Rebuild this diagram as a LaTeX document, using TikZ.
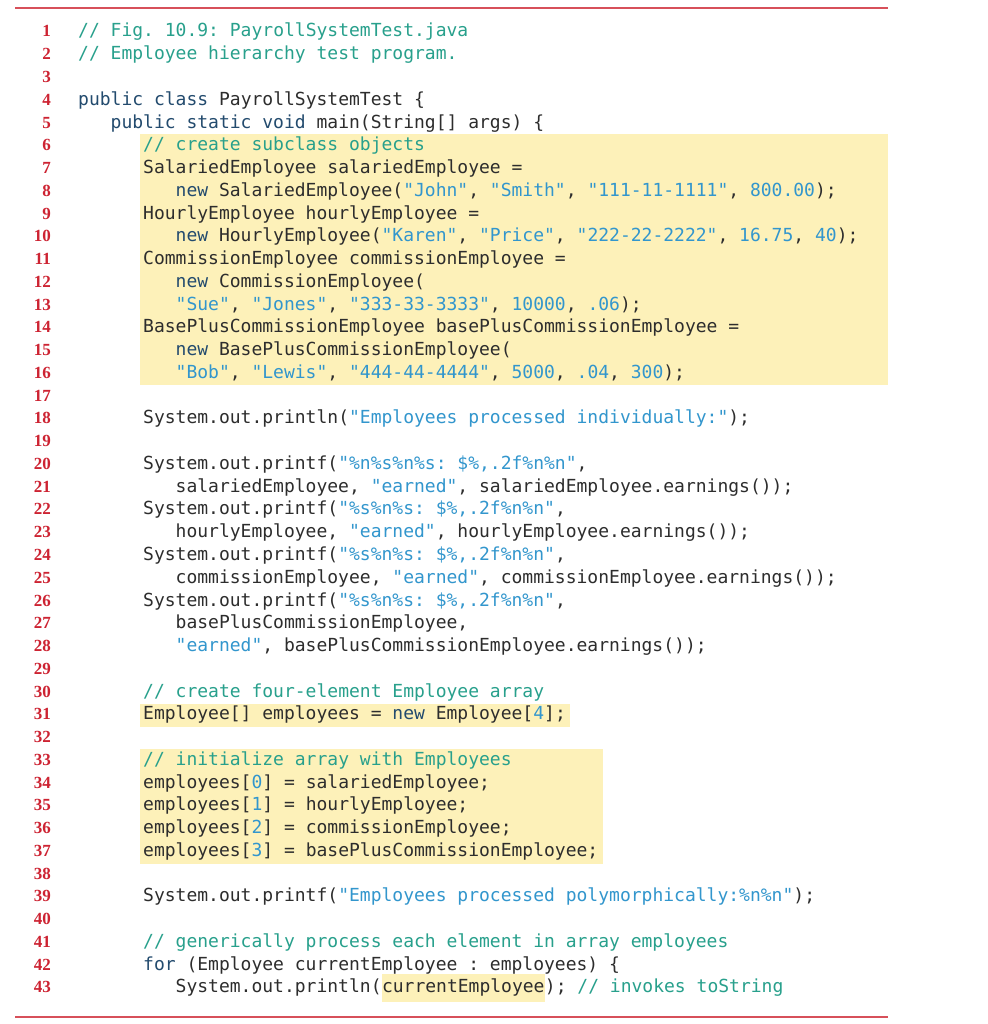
\documentclass[tikz,border=0pt]{standalone}
\usepackage{fontspec}
\setmainfont{Liberation Serif}
\setmonofont{DejaVu Sans Mono}
\definecolor{cmt}{RGB}{40,160,140}
\definecolor{str}{RGB}{50,150,205}
\definecolor{kwc}{RGB}{35,75,110}
\definecolor{txt}{RGB}{45,45,45}
\definecolor{hl}{RGB}{253,241,185}
\definecolor{rulec}{RGB}{215,80,90}
\definecolor{numc}{RGB}{205,35,50}
\newcommand\cm[1]{\textcolor{cmt}{#1}}
\newcommand\st[1]{\textcolor{str}{#1}}
\newcommand\kw[1]{\textcolor{kwc}{#1}}
\tikzset{code/.style={anchor=base west,inner sep=0pt,font=\fontsize{18.0}{20}\ttfamily,text=txt},
  lnum/.style={anchor=base east,inner sep=0pt,font=\fontsize{17}{18}\bfseries,text=numc},
  redrule/.style={draw=rulec,line width=1.3pt}}
\newcommand\cl[3]{\node[code] (c#1) at ({78+#2*32.5},{31+(#1-1)*22.76+6}) {#3};}
\newcommand\lnumber[1]{\node[lnum] (n#1) at (51,{31+(#1-1)*22.76+6}) {#1};}
\begin{document}
\begin{tikzpicture}[x=1pt,y=-1pt]
\useasboundingbox (0,0) rectangle (987,1024);
\fill[white] (0,0) rectangle (987,1024);
\draw[redrule] (15,8) -- (888,8);
\draw[redrule] (15,1017) -- (888,1017);
\fill[hl] (140,134) rectangle (888,385);
\fill[hl] (140,704) rectangle (570,727);
\fill[hl] (140,749) rectangle (603,864);
\foreach \i in {1,...,43}{\lnumber{\i}}
\cl{1}{0}{\cm{// Fig. 10.9: PayrollSystemTest.java}}
\cl{2}{0}{\cm{// Employee hierarchy test program.}}
\cl{4}{0}{\kw{public class} PayrollSystemTest \{}
\cl{5}{1}{\kw{public static void} main(String[] args) \{}
\cl{6}{2}{\cm{// create subclass objects}}
\cl{7}{2}{SalariedEmployee salariedEmployee =}
\cl{8}{3}{\kw{new} SalariedEmployee(\st{"John"}, \st{"Smith"}, \st{"111-11-1111"}, \st{800.00});}
\cl{9}{2}{HourlyEmployee hourlyEmployee =}
\cl{10}{3}{\kw{new} HourlyEmployee(\st{"Karen"}, \st{"Price"}, \st{"222-22-2222"}, \st{16.75}, \st{40});}
\cl{11}{2}{CommissionEmployee commissionEmployee =}
\cl{12}{3}{\kw{new} CommissionEmployee(}
\cl{13}{3}{\st{"Sue"}, \st{"Jones"}, \st{"333-33-3333"}, \st{10000}, \st{.06});}
\cl{14}{2}{BasePlusCommissionEmployee basePlusCommissionEmployee =}
\cl{15}{3}{\kw{new} BasePlusCommissionEmployee(}
\cl{16}{3}{\st{"Bob"}, \st{"Lewis"}, \st{"444-44-4444"}, \st{5000}, \st{.04}, \st{300});}
\cl{18}{2}{System.out.println(\st{"Employees processed individually:"});}
\cl{20}{2}{System.out.printf(\st{"\%n\%s\%n\%s: \$\%,.2f\%n\%n"},}
\cl{21}{3}{salariedEmployee, \st{"earned"}, salariedEmployee.earnings());}
\cl{22}{2}{System.out.printf(\st{"\%s\%n\%s: \$\%,.2f\%n\%n"},}
\cl{23}{3}{hourlyEmployee, \st{"earned"}, hourlyEmployee.earnings());}
\cl{24}{2}{System.out.printf(\st{"\%s\%n\%s: \$\%,.2f\%n\%n"},}
\cl{25}{3}{commissionEmployee, \st{"earned"}, commissionEmployee.earnings());}
\cl{26}{2}{System.out.printf(\st{"\%s\%n\%s: \$\%,.2f\%n\%n"},}
\cl{27}{3}{basePlusCommissionEmployee,}
\cl{28}{3}{\st{"earned"}, basePlusCommissionEmployee.earnings());}
\cl{30}{2}{\cm{// create four-element Employee array}}
\cl{31}{2}{Employee[] employees = \kw{new} Employee[\st{4}];}
\cl{33}{2}{\cm{// initialize array with Employees}}
\cl{34}{2}{employees[\st{0}] = salariedEmployee;}
\cl{35}{2}{employees[\st{1}] = hourlyEmployee;}
\cl{36}{2}{employees[\st{2}] = commissionEmployee;}
\cl{37}{2}{employees[\st{3}] = basePlusCommissionEmployee;}
\cl{39}{2}{System.out.printf(\st{"Employees processed polymorphically:\%n\%n"});}
\cl{41}{2}{\cm{// generically process each element in array employees}}
\cl{42}{2}{\kw{for} (Employee currentEmployee : employees) \{}
\cl{43}{3}{System.out.println(}
\node[code,fill=hl,inner ysep=5pt] (c43b) at (c43.base east) {currentEmployee};
\node[code] (c43c) at (c43b.base east) {); \cm{// invokes toString}};
\end{tikzpicture}
\end{document}
